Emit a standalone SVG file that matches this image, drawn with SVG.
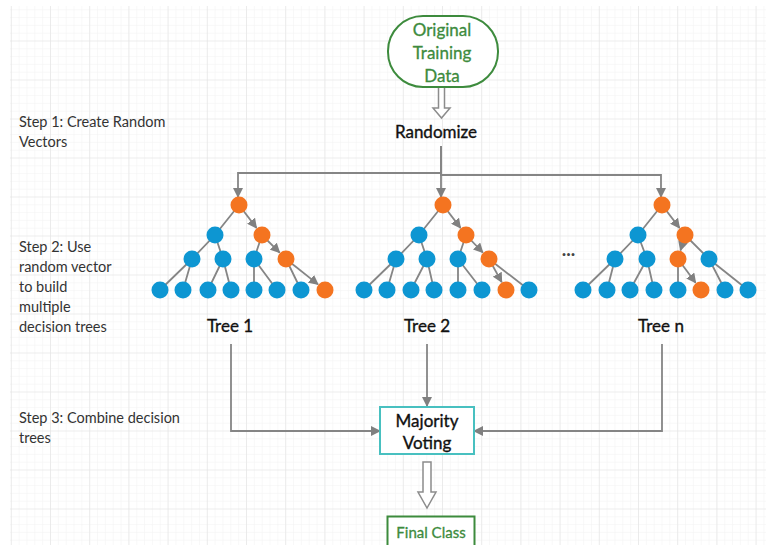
<svg xmlns="http://www.w3.org/2000/svg" width="766" height="545" viewBox="0 0 766 545">
  <defs>
    <pattern id="minor" patternUnits="userSpaceOnUse" x="10.8" y="1.5" width="7.84" height="7.8">
      <path d="M0,0 V7.8 M0,0 H7.84" fill="none" stroke="#f2f2f2" stroke-width="1"/>
    </pattern>
    <pattern id="major" patternUnits="userSpaceOnUse" x="10.8" y="1.5" width="39.2" height="39">
      <path d="M0,0 V39 M0,0 H39.2" fill="none" stroke="#e4e4e4" stroke-width="1.2"/>
    </pattern>
    <marker id="arr" viewBox="0 0 10 10" refX="9" refY="5" markerWidth="10" markerHeight="10" markerUnits="userSpaceOnUse" orient="auto">
      <path d="M0,0 L10,5 L0,10 z" fill="#808080"/>
    </marker>
    <style>
      .edge { fill: none; stroke: #858585; stroke-width: 1.8; }
      .arrow { fill: none; stroke: #858585; stroke-width: 1.8; marker-end: url(#arr); }
      .hollow { fill: #ffffff; stroke: #8c8c8c; stroke-width: 1.5; }
      .o { fill: #f47420; }
      .b { fill: #0d96d2; }
      .title { font-family: Lato, "Liberation Sans", sans-serif; font-size: 17px; font-weight: normal; fill: #111111; text-anchor: middle; stroke: #111111; stroke-width: 0.35; }
      .green { font-family: Lato, "Liberation Sans", sans-serif; font-size: 17px; font-weight: normal; fill: #3d8b3d; text-anchor: middle; stroke: #3d8b3d; stroke-width: 0.3; }
      .step { font-family: Lato, "Liberation Sans", sans-serif; font-size: 14.5px; fill: #333333; }
    </style>
  </defs>

  <!-- background grid -->
  <rect width="766" height="545" fill="#ffffff"/>
  <rect x="10" y="6" width="756" height="539" fill="url(#minor)"/>
  <rect x="10" y="6" width="756" height="539" fill="url(#major)"/>

  <!-- step descriptions -->
  <g id="steps">
    <text class="step" x="19" y="126.5">Step 1: Create Random</text>
    <text class="step" x="19" y="146.5">Vectors</text>
    <text class="step" x="19" y="251.5">Step 2: Use</text>
    <text class="step" x="19" y="271.5">random vector</text>
    <text class="step" x="19" y="291.5">to build</text>
    <text class="step" x="19" y="312">multiple</text>
    <text class="step" x="19" y="332">decision trees</text>
    <text class="step" x="19" y="423">Step 3: Combine decision</text>
    <text class="step" x="19" y="443">trees</text>
  </g>

  <!-- connectors -->
  <g id="connectors">
    <path class="hollow" d="M438.5,87 V108 H433 L441.5,118 L450,108 H444.5 V87 Z"/>
    <path class="arrow" d="M441,146 V173 H238 V197"/>
    <path class="arrow" d="M441,146 V197"/>
    <path class="arrow" d="M441,146 V175 H661 V197"/>
    <path class="arrow" d="M231,344 V431 H380"/>
    <path class="arrow" d="M427,344 V406"/>
    <path class="arrow" d="M662,344 V431 H474"/>
    <path class="hollow" d="M423,462 V492 H418 L427,508 L436,492 H431 V462 Z"/>
  </g>

  <!-- source data -->
  <g id="training-data">
    <rect x="388" y="16" width="110" height="71" rx="35" ry="35" fill="#ffffff" stroke="#3d8b3d" stroke-width="2"/>
    <text class="green" x="442" y="35.5">Original</text>
    <text class="green" x="442" y="58.5">Training</text>
    <text class="green" x="442" y="81.5">Data</text>
  </g>

  <g id="randomize">
    <text class="title" x="436" y="137.5">Randomize</text>
  </g>

  <!-- Tree 1 -->
  <g id="tree1">
    <path class="edge" d="M239,205 L215,235 M215,235 L192,259 M215,235 L223,259 M262,235 L254,259 M192,259 L160,290 M192,259 L183,290 M223,259 L208,290 M223,259 L231,290 M254,259 L254,290 M254,259 L277,290 M286,259 L301,290"/>
    <path class="arrow" d="M239,205 L256.5,227.9"/>
    <path class="arrow" d="M262,235 L279.6,252.6"/>
    <path class="arrow" d="M286,259 L318,284.4"/>
    <circle class="o" cx="239" cy="205" r="8.5"/>
    <circle class="b" cx="215" cy="235" r="8.5"/>
    <circle class="o" cx="262" cy="235" r="8.5"/>
    <circle class="b" cx="192" cy="259" r="8.5"/>
    <circle class="b" cx="223" cy="259" r="8.5"/>
    <circle class="b" cx="254" cy="259" r="8.5"/>
    <circle class="o" cx="286" cy="259" r="8.5"/>
    <circle class="b" cx="160" cy="290" r="8.5"/>
    <circle class="b" cx="183" cy="290" r="8.5"/>
    <circle class="b" cx="208" cy="290" r="8.5"/>
    <circle class="b" cx="231" cy="290" r="8.5"/>
    <circle class="b" cx="254" cy="290" r="8.5"/>
    <circle class="b" cx="277" cy="290" r="8.5"/>
    <circle class="b" cx="301" cy="290" r="8.5"/>
    <circle class="o" cx="325" cy="290" r="8.5"/>
    <text class="title" x="230" y="332">Tree 1</text>
  </g>

  <!-- Tree 2 -->
  <g id="tree2">
    <path class="edge" d="M443,205 L419,235 M419,235 L396,259 M419,235 L427,259 M466,235 L458,259 M396,259 L364,290 M396,259 L387,290 M427,259 L411,290 M427,259 L434,290 M458,259 L458,290 M458,259 L482,290 M489,259 L529,290"/>
    <path class="arrow" d="M443,205 L460.5,227.9"/>
    <path class="arrow" d="M466,235 L482.8,252.5"/>
    <path class="arrow" d="M489,259 L501.7,282.1"/>
    <circle class="o" cx="443" cy="205" r="8.5"/>
    <circle class="b" cx="419" cy="235" r="8.5"/>
    <circle class="o" cx="466" cy="235" r="8.5"/>
    <circle class="b" cx="396" cy="259" r="8.5"/>
    <circle class="b" cx="427" cy="259" r="8.5"/>
    <circle class="b" cx="458" cy="259" r="8.5"/>
    <circle class="o" cx="489" cy="259" r="8.5"/>
    <circle class="b" cx="364" cy="290" r="8.5"/>
    <circle class="b" cx="387" cy="290" r="8.5"/>
    <circle class="b" cx="411" cy="290" r="8.5"/>
    <circle class="b" cx="434" cy="290" r="8.5"/>
    <circle class="b" cx="458" cy="290" r="8.5"/>
    <circle class="b" cx="482" cy="290" r="8.5"/>
    <circle class="o" cx="506" cy="290" r="8.5"/>
    <circle class="b" cx="529" cy="290" r="8.5"/>
    <text class="title" x="427" y="332">Tree 2</text>
  </g>

  <g id="ellipsis">
    <text x="568.5" y="256" font-family="Lato, 'Liberation Sans', sans-serif" font-size="19" font-weight="bold" fill="#444444" text-anchor="middle">...</text>
  </g>

  <!-- Tree n -->
  <g id="treen">
    <path class="edge" d="M662,205 L638,235 M638,235 L615,259 M638,235 L647,259 M685,235 L709,259 M615,259 L583,290 M615,259 L607,290 M647,259 L630,290 M647,259 L654,290 M678,259 L678,290 M709,259 L725,290 M709,259 L748,290"/>
    <path class="arrow" d="M662,205 L679.5,227.9"/>
    <path class="arrow" d="M685,235 L680.5,250.4"/>
    <path class="arrow" d="M678,259 L695.6,282.8"/>
    <circle class="o" cx="662" cy="205" r="8.5"/>
    <circle class="b" cx="638" cy="235" r="8.5"/>
    <circle class="o" cx="685" cy="235" r="8.5"/>
    <circle class="b" cx="615" cy="259" r="8.5"/>
    <circle class="b" cx="647" cy="259" r="8.5"/>
    <circle class="o" cx="678" cy="259" r="8.5"/>
    <circle class="b" cx="709" cy="259" r="8.5"/>
    <circle class="b" cx="583" cy="290" r="8.5"/>
    <circle class="b" cx="607" cy="290" r="8.5"/>
    <circle class="b" cx="630" cy="290" r="8.5"/>
    <circle class="b" cx="654" cy="290" r="8.5"/>
    <circle class="b" cx="678" cy="290" r="8.5"/>
    <circle class="o" cx="701" cy="290" r="8.5"/>
    <circle class="b" cx="725" cy="290" r="8.5"/>
    <circle class="b" cx="748" cy="290" r="8.5"/>
    <text class="title" x="661" y="332">Tree n</text>
  </g>

  <!-- aggregation -->
  <g id="majority-voting">
    <rect x="380" y="407" width="94" height="47" fill="#ffffff" stroke="#48c0c0" stroke-width="2"/>
    <text class="title" x="427" y="427">Majority</text>
    <text class="title" x="427" y="448.5">Voting</text>
  </g>

  <g id="final-class">
    <rect x="387.5" y="516.5" width="87" height="40" fill="#ffffff" stroke="#3d8b3d" stroke-width="2"/>
    <text class="green" x="431" y="538" style="font-size:15px">Final Class</text>
  </g>
</svg>
